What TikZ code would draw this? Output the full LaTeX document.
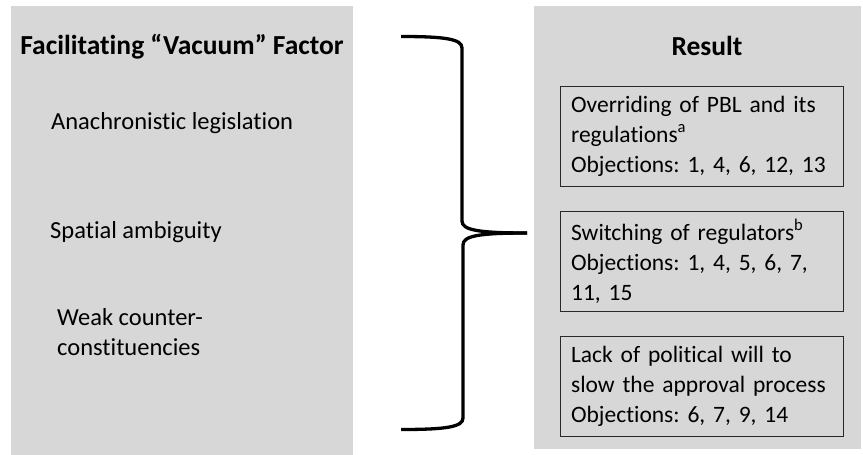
\documentclass[tikz,border=0pt]{standalone}
\usepackage{fontspec}
\setmainfont{Carlito}[Ligatures=NoCommon]
\definecolor{panelgray}{RGB}{215,215,215}
\definecolor{boxline}{RGB}{40,40,40}
\newcommand{\supmark}[1]{\raisebox{0.42em}{\fontsize{16.5}{16.5}\selectfont #1}}
\begin{document}
\frenchspacing
\begin{tikzpicture}[x=1pt,y=-1pt,
  panel/.style={fill=panelgray,draw=none},
  heading/.style={font=\fontsize{27.5}{32}\selectfont\bfseries,inner sep=0pt},
  factor/.style={font=\fontsize{24.5}{30}\selectfont,inner sep=0pt,anchor=west,align=left},
  resultbox/.style={draw=boxline,line width=1.2pt,anchor=north west,
    minimum width=282pt,minimum height=100pt,text width=262pt,inner xsep=10.5pt,
    align=left,font=\fontsize{23.5}{30}\selectfont},
  brace/.style={line width=3.3pt,black}]
\useasboundingbox (0,0) rectangle (863,455);
% two background panels
\fill[panel] (11,6) rectangle (353,455);
\fill[panel] (534,6) rectangle (861,449);
% left column
\node[heading] (fachead) at (182,47) {Facilitating “Vacuum” Factor};
\node[factor] (f1) at (51,123) {Anachronistic legislation};
\node[factor] (f2) at (50,232) {Spatial ambiguity};
\node[factor] (f3) at (57,332) {Weak counter-\\constituencies};
% curly brace joining the factors to the results
\coordinate (tip) at (527,233);
\draw[brace] (401,36.5) .. controls (445,36.5) and (462,39) .. (462,48)
  -- (462,221) .. controls (462,230) and (478,233) .. (tip);
\draw[brace] (tip) .. controls (478,233) and (463,236) .. (463,245)
  -- (463,418) .. controls (463,427) and (446,429.5) .. (401,429.5);
% right column
\node[heading] (reshead) at (707,46) {Result};
\node[resultbox] (r1) at (560,86) {Overriding of PBL and its\\regulations\supmark{a}\\Objections: 1, 4, 6, 12, 13};
\node[resultbox] (r2) at (560,211) {Switching of regulators\supmark{b}\\Objections: 1, 4, 5, 6, 7,\\11, 15};
\node[resultbox] (r3) at (560,336) {Lack of political will to\\slow the approval process\\Objections: 6, 7, 9, 14};
\end{tikzpicture}
\end{document}
